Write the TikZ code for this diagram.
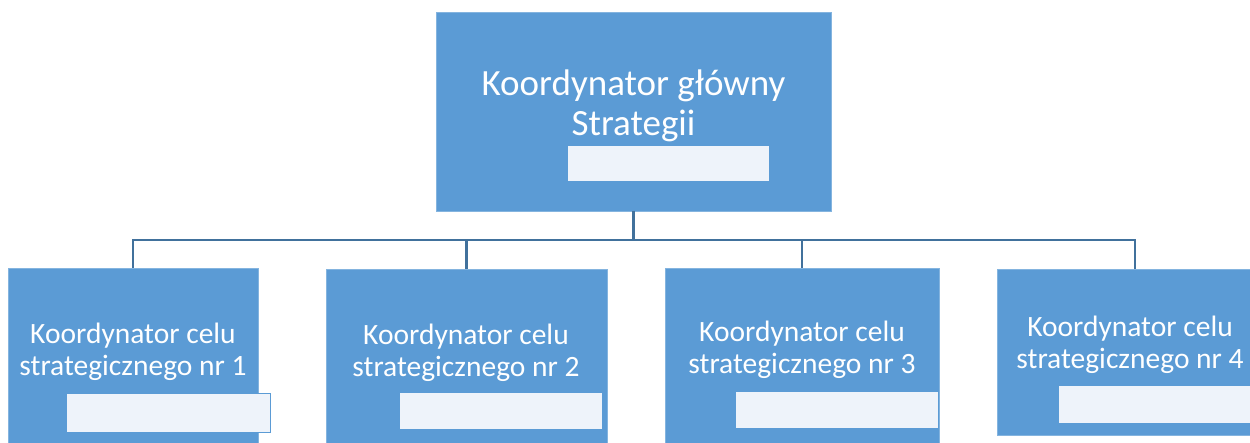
\documentclass[tikz,border=0pt]{standalone}
\usepackage{fontspec}
\setmainfont{Carlito}
\usetikzlibrary{positioning,calc}
\definecolor{boxblue}{HTML}{5B9BD5}
\definecolor{slotwhite}{HTML}{EEF3FA}
\definecolor{lineblue}{HTML}{41719C}

\begin{document}
\begin{tikzpicture}[
    x=1pt, y=-1pt,
    every node/.style={inner sep=0pt, outer sep=0pt},
    unit/.style={fill=boxblue, draw=boxblue!75!white, line width=0.6pt, anchor=north west},
    slot/.style={fill=slotwhite, draw=boxblue, line width=1pt, anchor=north west, minimum height=37pt},
    toplbl/.style={text=white, align=center, font=\fontsize{37}{40}\selectfont},
    goallbl/.style={text=white, align=center, font=\fontsize{29.5}{32.5}\selectfont},
    link/.style={draw=lineblue, line width=2.6pt},
]
\clip (0,0) rectangle (1250,443);

% main coordinator
\node[unit, minimum width=395pt, minimum height=199pt] (head) at (436,12) {};
\node[slot, minimum width=202pt, minimum height=36pt] (headslot) at (567,146) {};
\node[toplbl] (headtxt) at (633.5,106) {Koordynator główny\\Strategii};

% goal coordinators
\node[unit, minimum width=250pt, minimum height=190pt] (g1) at (8,268) {};
\node[unit, minimum width=281pt, minimum height=190pt] (g2) at (326,269) {};
\node[unit, minimum width=274pt, minimum height=190pt] (g3) at (665,268) {};
\node[unit, minimum width=276pt, minimum height=166pt] (g4) at (997,269) {};

\node[slot, minimum width=204pt, minimum height=39pt] (s1) at (66,393) {};
\node[slot, minimum width=203pt] (s2) at (399,392) {};
\node[slot, minimum width=203pt] (s3) at (735,391) {};
\node[slot, minimum width=210pt] (s4) at (1058,386) {};

\node[goallbl] (t1) at (133,352) {Koordynator celu\\strategicznego nr 1};
\node[goallbl] (t2) at (466,353) {Koordynator celu\\strategicznego nr 2};
\node[goallbl] (t3) at (802,350) {Koordynator celu\\strategicznego nr 3};
\node[goallbl] (t4) at (1130,345) {Koordynator celu\\strategicznego nr 4};

% connectors
\coordinate (bus) at (633.5,240);
\draw[link] (head.south) -- (bus);
\foreach \g in {g1,g2,g3,g4}
    \draw[link] (bus) -| (\g.north);
\end{tikzpicture}
\end{document}
